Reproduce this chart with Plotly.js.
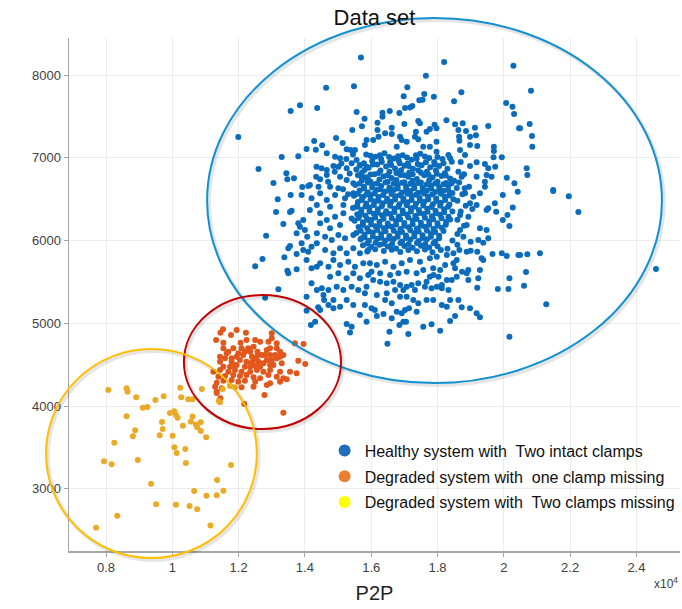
<!DOCTYPE html>
<html>
<head>
<meta charset="utf-8">
<script src="https://cdn.plot.ly/plotly-3.0.1.min.js"></script>
<style>html,body{margin:0;padding:0;background:#fff;}#chart{width:682px;height:609px;}</style>
</head>
<body>
<div id="chart"></div>
<script>
// ---- Data (P2P in units of 1e4, RMS) ----
const seriesNames = [
  "Healthy system with  Two intact clamps",
  "Degraded system with  one clamp missing",
  "Degraded system with  Two clamps missing"
];
const xTickVals = [0.8, 1, 1.2, 1.4, 1.6, 1.8, 2, 2.2, 2.4];
const xTickText = ["0.8", "1", "1.2", "1.4", "1.6", "1.8", "2", "2.2", "2.4"];
const yTickVals = [3000, 4000, 5000, 6000, 7000, 8000];
const yTickText = ["3000", "4000", "5000", "6000", "7000", "8000"];

const healthyPoints = [
 [1.569,8210],[1.464,7847],[1.548,7863],[1.385,7634],[1.357,7565],[1.437,7601],[1.556,7553],[1.580,7473],[1.199,7251],[1.572,7380],[1.543,7336],[1.428,7203],[1.494,7239],[1.452,7150],[1.405,7106],[1.433,7098],[1.514,7179],[1.526,7102],[1.538,7094],[1.551,7094],[1.581,7154],[1.586,7215],[1.330,7010],[1.380,7018],[1.466,7054],[1.491,7014],[1.506,6993],[1.260,6865],[1.344,6812],[1.347,6740],[1.305,6695],[1.392,6647],[1.410,6659],[1.367,6752],[1.435,6893],[1.450,6873],[1.466,6853],[1.486,6901],[1.501,6893],[1.434,6772],[1.446,6740],[1.466,6792],[1.526,6873],[1.541,6933],[1.556,6973],[1.566,6913],[1.586,6893],[1.506,6772],[1.526,6732],[1.546,6691],[1.571,6772],[1.591,6732],[1.415,6671],[1.441,6651],[1.476,6651],[1.501,6631],
 [1.820,8157],[2.029,8113],[1.765,7992],[1.709,7851],[1.760,7771],[1.789,7738],[1.872,7791],[1.698,7742],[1.745,7694],[1.755,7702],[1.850,7682],[2.007,7662],[2.026,7618],[2.031,7529],[1.724,7626],[1.717,7606],[1.702,7602],[1.685,7541],[1.656,7565],[1.634,7545],[1.634,7497],[1.827,7453],[1.853,7404],[1.876,7416],[1.742,7444],[1.747,7416],[1.700,7408],[1.662,7364],[1.619,7424],[1.619,7336],[1.791,7400],[1.797,7356],[1.777,7348],[1.767,7316],[1.863,7336],[1.886,7324],[1.913,7364],[1.953,7384],[1.865,7255],[1.898,7255],[1.916,7271],[2.046,7356],[1.735,7316],[1.732,7255],[1.742,7223],[1.642,7295],[1.622,7255],[1.662,7287],[1.606,7215],[1.687,7255],[1.692,7215],[1.707,7195],[1.677,7134],[1.797,7195],[1.777,7134],[1.797,7074],[1.757,7134],[1.866,7207],[1.898,7155],[1.920,7143],[1.868,7094],[1.883,7034],[1.970,7134],[1.970,7082],[1.994,7006],[1.969,7006],[1.833,7034],[1.838,6993],[1.843,6953],[1.898,6901],[1.918,6945],[1.943,6925],[1.953,6873],[1.974,6893],[1.863,6832],[1.873,6772],[1.918,6772],[1.948,6792],[1.963,6772],[2.009,6760],[2.032,6691],[1.882,6631],[1.943,6712],[1.943,6651],
 [2.082,7811],[2.049,7356],[2.078,7408],[2.085,7263],[2.086,7134],[2.069,6873],[2.071,6792],[2.149,6611],
 [2.149,6599],[2.196,6534],[2.225,6345],[2.049,5826],[2.071,5834],[2.109,5846],[2.067,5620],[2.061,5455],[2.128,5230],[2.459,5657],
 [1.997,6551],[2.042,6591],[2.027,6398],[2.011,6309],[1.997,6249],[2.017,6176],[1.973,6450],[1.977,6349],[1.948,6369],[1.953,6390],[1.928,6571],[1.908,6530],[1.898,6450],[1.918,6430],[1.883,6571],[1.928,6148],[1.948,6128],[1.953,6027],[1.938,5975],[1.900,5987],[1.923,6007],[1.966,5838],[1.994,5846],[2.009,5814],[2.044,5826],[1.933,5785],[1.938,5765],[1.920,5866],[1.900,5878],[2.017,5544],[2.014,5415],[1.982,5415],[1.923,5544],[1.920,5431],[1.893,5524],[1.888,5604],[1.893,5645],[1.928,5645],[1.874,5624],[1.853,5665],[1.858,5564],[1.843,5524],[1.848,5725],[1.858,5765],[1.866,5886],[1.888,5866],[1.878,6047],[1.868,6128],[1.888,6188],[1.893,6289],[1.868,6309],[1.833,5403],[1.813,5423],[1.838,5282],[1.863,5282],[1.873,5193],[1.898,5181],[1.918,5121],[1.928,5073],[1.838,5028],[1.853,5089],[1.808,4912],[1.782,4988],[1.757,4960],[2.017,4839],[1.712,4871],[1.697,5020],[1.685,4980],[1.705,5020],[1.655,4900],[1.649,4755],[1.714,5181],[1.702,5161],[1.692,5121],[1.677,5141],[1.662,5061],[1.637,5113],[1.617,5089],[1.611,5161],[1.601,5181],[1.727,5282],[1.742,5242],[1.767,5282],[1.787,5282],[1.813,5222],[1.828,5202],[1.737,5141],[1.617,5343],[1.642,5282],[1.662,5242],[1.687,5322],[1.707,5322],[1.672,5403],[1.647,5363],[1.697,5403],[1.732,5403],[1.762,5443],[1.782,5423],[1.798,5443],[1.767,5504],[1.813,5463],[1.828,5524],[1.803,5564],[1.788,5584],[1.777,5564],[1.606,5524],[1.627,5504],[1.647,5483],[1.667,5504],[1.687,5463],[1.707,5443],[1.722,5463],[1.742,5483],[1.601,5624],[1.627,5604],[1.657,5584],[1.682,5604],[1.707,5624],[1.737,5604],[1.757,5645],[1.787,5665],[1.808,5645],[1.823,5705],[1.596,5725],[1.617,5705],[1.642,5745],[1.667,5685],[1.692,5725],[1.717,5765],[1.747,5745],[1.777,5785],[1.798,5806],[1.828,5826],[1.848,5846],
 [1.318,6498],[1.357,6551],[1.313,6345],[1.355,6345],[1.360,6361],[1.335,6200],[1.283,6059],[1.272,5777],[1.250,5689],[1.320,5411],[1.280,5310],[1.338,5798],[1.350,5906],[1.355,5934],[1.347,5636],[1.350,5604],[1.375,5653],[1.380,6208],[1.385,6168],[1.375,6088],[1.395,6248],[1.400,6128],[1.407,6047],[1.390,5967],[1.395,5886],[1.375,5838],[1.410,5866],[1.420,5926],[1.436,5967],[1.405,5765],[1.420,5665],[1.436,5685],[1.420,5483],[1.436,5403],[1.451,5423],[1.405,5322],[1.440,5193],[1.405,5153],[1.456,5343],[1.458,5282],[1.471,5222],[1.446,5161],[1.431,5020],[1.418,4980],[1.526,4992],[1.541,4960],[1.536,4888],[1.586,5020],[1.566,5101],[1.486,5282],[1.506,5202],[1.486,5181],[1.526,5282],[1.546,5222],[1.581,5222],[1.581,5363],[1.471,5403],[1.496,5443],[1.516,5403],[1.541,5443],[1.561,5403],[1.586,5443],[1.476,5564],[1.501,5604],[1.526,5544],[1.546,5604],[1.566,5544],[1.591,5584],[1.446,5725],[1.471,5685],[1.486,5765],[1.506,5705],[1.531,5745],[1.551,5685],[1.576,5725],[1.461,5886],[1.486,5846],[1.506,5906],[1.526,5846],[1.546,5906],[1.566,5846],[1.591,5886],[1.436,6088],[1.461,6047],[1.481,6007],[1.501,6067],[1.521,6027],[1.546,6067],[1.571,6027],[1.415,6369],[1.446,6329],[1.466,6248],[1.491,6289],[1.516,6329],[1.541,6268],[1.566,6309],[1.591,6248],[1.446,6208],[1.476,6148],[1.506,6188],[1.390,6551],[1.420,6510],[1.446,6571],[1.466,6490],[1.491,6551],[1.521,6510],[1.546,6571],[1.576,6530],[1.436,6430],[1.476,6410],[1.516,6430],[1.556,6410],
 [1.585,7040],[1.612,7012],[1.640,7055],[1.668,6990],[1.695,7030],[1.722,6975],[1.748,7048],[1.775,6998],[1.603,6960],[1.630,6985],[1.657,6945],[1.683,6968],[1.710,6932],[1.737,6990],[1.790,6948],[1.815,6985],
 [1.565,6905],[1.592,6880],[1.618,6920],[1.645,6895],[1.672,6870],[1.700,6905],[1.726,6868],[1.752,6910],[1.778,6885],[1.805,6902],[1.830,6868],[1.580,6852],[1.628,6845],[1.655,6830],[1.690,6848],[1.715,6822],[1.742,6850],[1.768,6830],[1.795,6845],[1.822,6812],
 [1.560,6790],[1.585,6765],[1.610,6800],[1.638,6778],[1.662,6755],[1.688,6792],[1.712,6770],[1.738,6745],[1.760,6788],[1.785,6762],[1.812,6780],[1.838,6750],[1.572,6725],[1.598,6710],[1.625,6738],[1.650,6712],[1.676,6732],[1.700,6705],[1.725,6722],[1.750,6700],[1.775,6728],[1.800,6712],[1.826,6695],[1.850,6722],
 [1.552,6670],[1.578,6650],[1.603,6680],[1.630,6660],[1.655,6640],[1.680,6672],[1.705,6650],[1.730,6668],[1.755,6642],[1.780,6665],[1.805,6648],[1.832,6660],[1.858,6635],[1.565,6605],[1.590,6585],[1.616,6612],[1.642,6592],[1.668,6610],[1.693,6580],[1.718,6600],[1.742,6578],[1.768,6605],[1.793,6588],[1.818,6602],[1.845,6575],
 [1.548,6540],[1.573,6520],[1.598,6548],[1.622,6525],[1.648,6505],[1.672,6535],[1.697,6512],[1.722,6538],[1.746,6515],[1.771,6532],[1.796,6508],[1.822,6528],[1.848,6500],[1.560,6465],[1.585,6448],[1.610,6475],[1.635,6452],[1.660,6470],[1.685,6440],[1.710,6462],[1.735,6445],[1.760,6468],[1.786,6440],[1.810,6458],[1.836,6435],
 [1.545,6392],[1.570,6372],[1.595,6398],[1.620,6378],[1.645,6355],[1.670,6385],[1.695,6362],[1.720,6390],[1.744,6368],[1.769,6385],[1.794,6360],[1.820,6378],[1.845,6350],[1.558,6318],[1.583,6300],[1.608,6325],[1.633,6305],[1.658,6322],[1.683,6292],[1.708,6315],[1.733,6298],[1.758,6320],[1.783,6295],[1.808,6312],[1.833,6288],
 [1.550,6240],[1.575,6222],[1.600,6248],[1.625,6228],[1.650,6205],[1.675,6235],[1.700,6212],[1.725,6240],[1.750,6215],[1.775,6232],[1.800,6210],[1.826,6228],[1.562,6165],[1.588,6148],[1.613,6172],[1.638,6150],[1.663,6168],[1.688,6140],[1.713,6162],[1.738,6145],[1.763,6168],[1.788,6140],[1.813,6155],
 [1.555,6092],[1.580,6072],[1.605,6098],[1.630,6078],[1.655,6055],[1.680,6085],[1.705,6062],[1.730,6088],[1.755,6065],[1.780,6082],[1.805,6058],[1.568,6015],[1.593,5998],[1.618,6022],[1.643,6000],[1.668,6018],[1.693,5990],[1.718,6012],[1.743,5995],[1.768,6015],[1.793,5990],
 [1.575,5942],[1.600,5925],[1.625,5948],[1.650,5928],[1.675,5905],[1.700,5935],[1.725,5912],[1.750,5938],[1.775,5915],[1.800,5932],[1.588,5868],[1.638,5875],[1.688,5862],[1.738,5870],[1.785,5858],
 [1.870,6950],[1.880,6800],[1.865,6700],[1.895,6650],[1.875,6560],[1.860,6480],[1.885,6420],[1.870,6350],[1.905,6380],[1.860,6250],[1.880,6180],[1.860,6080],[1.845,6000],[1.860,5950],[1.830,5900],
 [1.525,6985],[1.545,7040],[1.510,6930],[1.535,6810],[1.490,6830],[1.555,6860],[1.470,6710],[1.515,6620],[1.530,6560],
 [1.598,7025],[1.626,7030],[1.654,7008],[1.681,7020],[1.708,7002],[1.735,7030],[1.762,7015],[1.800,7010],
 [1.578,6935],[1.605,6920],[1.632,6948],[1.660,6912],[1.686,6935],[1.713,6900],[1.740,6925],[1.765,6945],[1.792,6918],[1.818,6935],
 [1.572,6818],[1.598,6798],[1.623,6815],[1.650,6790],[1.676,6815],[1.700,6790],[1.725,6800],[1.750,6820],[1.773,6795],[1.798,6808],[1.825,6785],
 [1.565,6690],[1.590,6700],[1.617,6688],[1.643,6700],[1.668,6685],[1.693,6698],[1.718,6685],[1.743,6695],[1.768,6680],[1.793,6690],[1.818,6680],[1.842,6690],
 [1.578,6628],[1.603,6640],[1.628,6620],[1.655,6608],[1.680,6630],[1.706,6615],[1.730,6632],[1.756,6612],[1.781,6630],[1.806,6620],[1.832,6612],
 [1.560,6565],[1.586,6555],[1.610,6570],[1.636,6550],[1.661,6562],[1.686,6548],[1.710,6565],[1.735,6552],[1.759,6568],[1.784,6555],[1.810,6565],[1.835,6545],
 [1.572,6490],[1.598,6495],[1.622,6482],[1.648,6478],[1.672,6495],[1.697,6478],[1.722,6490],[1.747,6480],[1.772,6495],[1.797,6478],[1.823,6490],
 [1.558,6425],[1.583,6412],[1.608,6430],[1.632,6415],[1.657,6420],[1.682,6408],[1.707,6428],[1.732,6410],[1.757,6425],[1.782,6405],[1.808,6420],[1.832,6408],
 [1.570,6340],[1.595,6350],[1.620,6335],[1.645,6325],[1.670,6345],[1.695,6330],[1.720,6350],[1.745,6332],[1.770,6348],[1.795,6330],[1.820,6342],
 [1.562,6272],[1.588,6262],[1.612,6280],[1.637,6265],[1.662,6270],[1.687,6258],[1.712,6278],[1.737,6262],[1.762,6275],[1.787,6258],[1.812,6270],[1.838,6255],
 [1.575,6188],[1.600,6198],[1.625,6185],[1.650,6175],[1.675,6195],[1.700,6178],[1.725,6198],[1.750,6180],[1.775,6192],[1.800,6178],[1.825,6190],
 [1.568,6120],[1.593,6110],[1.618,6128],[1.643,6112],[1.668,6118],[1.693,6105],[1.718,6125],[1.743,6110],[1.768,6122],[1.793,6105],[1.818,6115],
 [1.580,6040],[1.605,6050],[1.630,6035],[1.655,6025],[1.680,6045],[1.705,6030],[1.730,6048],[1.755,6032],[1.780,6045],[1.805,6028],
 [1.588,5965],[1.613,5975],[1.638,5962],[1.663,5958],[1.688,5972],[1.713,5958],[1.738,5970],[1.763,5960],[1.788,5968],
 [1.612,5895],[1.662,5890],[1.712,5885],[1.762,5892],[1.810,5885]
];

const oneMissingPoints = [
 [1.153,4928],[1.145,4887],[1.194,4919],[1.222,4887],[1.300,4879],[1.177,4859],[1.132,4799],[1.154,4767],[1.206,4767],[1.224,4799],[1.250,4799],[1.265,4779],[1.290,4779],[1.300,4819],[1.315,4759],[1.370,4759],[1.396,4751],[1.169,4658],[1.184,4698],[1.209,4698],[1.229,4698],[1.245,4718],[1.257,4658],[1.235,4658],[1.285,4678],[1.295,4698],[1.315,4698],[1.325,4658],[1.154,4698],[1.164,4638],[1.144,4597],[1.159,4577],[1.179,4577],[1.194,4597],[1.214,4617],[1.240,4597],[1.255,4597],[1.270,4617],[1.295,4617],[1.310,4617],[1.325,4597],[1.335,4617],[1.144,4537],[1.179,4537],[1.204,4557],[1.224,4537],[1.240,4525],[1.260,4537],[1.285,4557],[1.300,4557],[1.315,4577],[1.380,4549],[1.154,4477],[1.174,4477],[1.194,4497],[1.219,4477],[1.250,4485],[1.275,4517],[1.295,4497],[1.330,4517],[1.401,4509],[1.124,4416],[1.144,4436],[1.169,4416],[1.189,4436],[1.209,4416],[1.235,4416],[1.255,4436],[1.275,4416],[1.295,4436],[1.325,4416],[1.355,4416],[1.375,4396],[1.139,4356],[1.159,4364],[1.184,4376],[1.204,4364],[1.224,4376],[1.245,4348],[1.265,4336],[1.290,4376],[1.315,4356],[1.335,4336],[1.134,4283],[1.154,4307],[1.179,4316],[1.199,4295],[1.219,4307],[1.250,4295],[1.295,4275],[1.325,4295],[1.345,4324],[1.129,4235],[1.149,4215],[1.209,4227],[1.245,4235],[1.285,4255],[1.134,4175],[1.145,4095],[1.134,4160],[1.278,4134],[1.335,3921],[1.217,4026],[1.219,4658],[1.245,4557],[1.265,4477],[1.235,4477],[1.199,4638],[1.280,4617],[1.305,4497],[1.184,4497]
];

const twoMissingPoints = [
 [0.807,4195],[0.862,4215],[0.865,4175],[0.891,4107],[0.949,4074],[0.974,4118],[0.911,3981],[0.925,3990],[0.862,3877],[0.888,3708],[0.881,3636],[0.825,3559],[0.794,3333],[0.817,3297],[0.896,3349],[0.936,3063],[0.834,2676],[0.770,2531],[0.951,2814],[1.011,2810],[0.993,3917],[1.006,3937],[1.011,3893],[1.016,3860],[0.969,3808],[0.971,3724],[0.962,3648],[1.001,3643],[1.006,3503],[1.013,3434],[1.039,3482],[1.041,3313],[1.024,4222],[1.027,4107],[1.048,4082],[1.061,4082],[1.089,4207],[1.032,3764],[1.056,3813],[1.061,3874],[1.071,3777],[1.075,3745],[1.086,3805],[1.086,3700],[1.102,3624],[1.177,3289],[1.135,3108],[1.154,2978],[1.134,2923],[1.103,2918],[1.066,2975],[1.052,2793],[1.075,2754],[1.115,2557],[1.140,4062],[1.152,4207],[1.174,4243],[1.144,4046],[1.189,4227]
];

// ellipse outlines around the three groups: [x0, x1, y0, y1] in data units
const healthyEllipse = [1.105, 2.477, 4279, 8689];
const oneMissingEllipse = [1.035, 1.509, 3724, 5342];
const twoMissingEllipse = [0.619, 1.255, 2165, 4690];

const pointColors = ["#0b6cbc", "#e2571c", "#ebaa26"];
const legendColors = ["#1f6ebe", "#ed7d31", "#ffff00"];
const ellipseColors = ["#1190d2", "#c00000", "#ffbf00"];

// ---- Build ----
const xRange = [0.6884, 2.5315];
const yRange = [2250, 8447];
const toPX = v => (v - xRange[0]) / (xRange[1] - xRange[0]);
const toPY = v => (v - yRange[0]) / (yRange[1] - yRange[0]);

const groups = [healthyPoints, oneMissingPoints, twoMissingPoints];
const traces = [];
groups.forEach((pts, i) => {
  traces.push({
    type: "scatter", mode: "markers",
    x: pts.map(p => p[0]), y: pts.map(p => p[1]),
    marker: {color: pointColors[i], size: 6},
    showlegend: false, hoverinfo: "skip"
  });
});
seriesNames.forEach((n, i) => {
  traces.push({
    type: "scatter", mode: "markers", name: n,
    x: [null], y: [null],
    marker: {color: legendColors[i], size: 12},
    legendgroup: "g" + i, showlegend: true
  });
});

const shapes = [];
[healthyEllipse, oneMissingEllipse, twoMissingEllipse].forEach((e, i) => {
  shapes.push({
    type: "circle", xref: "paper", yref: "paper", layer: "above",
    x0: toPX(e[0]) + 0.003, x1: toPX(e[1]) + 0.003,
    y0: toPY(e[2]) - 0.004, y1: toPY(e[3]) - 0.004,
    line: {color: "rgba(0,0,0,0.10)", width: 4}
  });
  shapes.push({
    type: "circle", xref: "paper", yref: "paper", layer: "above",
    x0: toPX(e[0]), x1: toPX(e[1]), y0: toPY(e[2]), y1: toPY(e[3]),
    line: {color: ellipseColors[i], width: 2}
  });
});

const font = "Liberation Sans, Arial, sans-serif";
const layout = {
  width: 682, height: 609,
  margin: {l: 69, r: 2, t: 38, b: 58, autoexpand: false},
  paper_bgcolor: "#ffffff", plot_bgcolor: "#ffffff",
  font: {family: font, color: "#333"},
  title: {text: "Data set", font: {size: 22, color: "#111", family: font},
          x: 0.5, xref: "paper", y: 0.972, yref: "container", yanchor: "middle"},
  xaxis: {
    range: xRange, tickvals: xTickVals, ticktext: xTickText,
    showgrid: true, gridcolor: "#ececec", gridwidth: 1,
    zeroline: false, showline: true, linecolor: "#a6a6a6", linewidth: 1.5,
    ticks: "outside", ticklen: 4, tickcolor: "#a6a6a6",
    tickfont: {size: 13, color: "#404040"},
    title: {text: "P2P", font: {size: 20, color: "#222"}, standoff: 12},
    automargin: false
  },
  yaxis: {
    range: yRange, tickvals: yTickVals, ticktext: yTickText,
    showgrid: true, gridcolor: "#ececec", gridwidth: 1,
    zeroline: false, showline: true, linecolor: "#a6a6a6", linewidth: 1.5,
    ticks: "outside", ticklen: 4, tickcolor: "#a6a6a6",
    tickfont: {size: 13, color: "#404040"},
    title: {text: "RMS", font: {size: 20, color: "#222"}, standoff: 0},
    automargin: false
  },
  legend: {
    xref: "container", yref: "container",
    x: 0.476, xanchor: "left", y: 0.288, yanchor: "top",
    bgcolor: "rgba(0,0,0,0)", borderwidth: 0,
    font: {size: 16, color: "#111", family: font},
    tracegroupgap: 2, itemsizing: "trace"
  },
  shapes: shapes,
  annotations: [{
    text: "x10<sup>4</sup>", xref: "paper", yref: "paper",
    x: 1.0, xanchor: "right", y: -0.062, yanchor: "middle",
    showarrow: false, font: {size: 12, color: "#404040"}
  }],
  hovermode: false
};

Plotly.newPlot("chart", traces, layout, {displayModeBar: false, staticPlot: true});
</script>
</body>
</html>
